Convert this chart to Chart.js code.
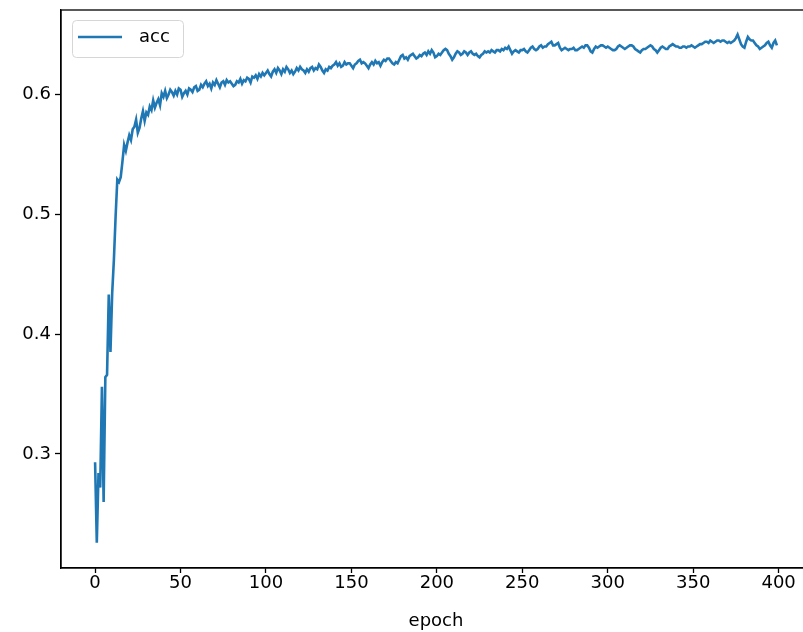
<!DOCTYPE html>
<html>
<head>
<meta charset="utf-8">
<script src="https://cdn.jsdelivr.net/npm/chart.js@4.4.1/dist/chart.umd.min.js"></script>
<style>
  body { margin: 0; background: #fff; }
  #wrap { width: 803px; height: 632px; overflow: hidden; }
</style>
</head>
<body>
<div id="wrap"><canvas id="accChart" width="811" height="632"></canvas></div>
<script>
// accuracy per epoch (400 epochs, 0..399)
const acc = [
    0.293, 0.226, 0.284, 0.272, 0.356, 0.260, 0.364, 0.366, 0.433, 0.385, 0.434, 0.462, 0.498, 0.529, 0.527, 0.531, 0.544, 0.558, 0.553, 0.560,
    0.566, 0.562, 0.571, 0.573, 0.579, 0.568, 0.572, 0.580, 0.586, 0.578, 0.585, 0.583, 0.590, 0.587, 0.595, 0.589, 0.593, 0.596, 0.591, 0.601,
    0.598, 0.603, 0.597, 0.600, 0.604, 0.602, 0.599, 0.603, 0.600, 0.605, 0.604, 0.598, 0.601, 0.603, 0.600, 0.605, 0.604, 0.602, 0.606, 0.607,
    0.603, 0.604, 0.608, 0.606, 0.609, 0.611, 0.607, 0.609, 0.605, 0.610, 0.608, 0.612, 0.609, 0.606, 0.610, 0.611, 0.608, 0.612, 0.610, 0.611,
    0.609, 0.607, 0.608, 0.611, 0.610, 0.613, 0.609, 0.612, 0.611, 0.614, 0.613, 0.610, 0.615, 0.614, 0.616, 0.613, 0.617, 0.615, 0.618, 0.616,
    0.618, 0.620, 0.617, 0.615, 0.619, 0.621, 0.618, 0.622, 0.620, 0.617, 0.621, 0.619, 0.623, 0.621, 0.618, 0.620, 0.617, 0.619, 0.622, 0.620,
    0.623, 0.621, 0.620, 0.618, 0.621, 0.619, 0.622, 0.623, 0.620, 0.622, 0.621, 0.625, 0.623, 0.620, 0.618, 0.621, 0.620, 0.623, 0.622, 0.624,
    0.625, 0.627, 0.624, 0.626, 0.623, 0.624, 0.627, 0.625, 0.626, 0.626, 0.624, 0.622, 0.625, 0.626, 0.628, 0.629, 0.626, 0.627, 0.626, 0.624,
    0.622, 0.625, 0.627, 0.625, 0.628, 0.626, 0.627, 0.624, 0.627, 0.629, 0.628, 0.630, 0.630, 0.628, 0.626, 0.625, 0.627, 0.626, 0.629, 0.632,
    0.633, 0.630, 0.631, 0.629, 0.632, 0.633, 0.634, 0.632, 0.630, 0.631, 0.633, 0.632, 0.634, 0.635, 0.633, 0.636, 0.634, 0.637, 0.635, 0.631,
    0.632, 0.634, 0.633, 0.635, 0.637, 0.638, 0.637, 0.634, 0.632, 0.629, 0.631, 0.634, 0.636, 0.635, 0.633, 0.634, 0.636, 0.635, 0.633, 0.635,
    0.636, 0.634, 0.633, 0.634, 0.632, 0.631, 0.633, 0.634, 0.636, 0.635, 0.636, 0.635, 0.637, 0.636, 0.635, 0.637, 0.637, 0.636, 0.638, 0.637,
    0.639, 0.638, 0.640, 0.637, 0.634, 0.636, 0.637, 0.636, 0.635, 0.637, 0.637, 0.638, 0.636, 0.635, 0.637, 0.639, 0.640, 0.638, 0.637, 0.638,
    0.640, 0.641, 0.639, 0.640, 0.640, 0.642, 0.643, 0.644, 0.641, 0.641, 0.642, 0.643, 0.639, 0.637, 0.638, 0.639, 0.638, 0.637, 0.638, 0.638,
    0.639, 0.637, 0.637, 0.638, 0.639, 0.640, 0.639, 0.641, 0.641, 0.639, 0.636, 0.635, 0.638, 0.640, 0.639, 0.640, 0.641, 0.641, 0.640, 0.639,
    0.640, 0.639, 0.638, 0.637, 0.637, 0.638, 0.640, 0.641, 0.640, 0.639, 0.638, 0.639, 0.640, 0.641, 0.641, 0.640, 0.638, 0.637, 0.636, 0.635,
    0.637, 0.638, 0.638, 0.639, 0.640, 0.641, 0.640, 0.638, 0.637, 0.635, 0.637, 0.639, 0.640, 0.639, 0.638, 0.638, 0.640, 0.641, 0.642, 0.641,
    0.640, 0.640, 0.639, 0.639, 0.640, 0.640, 0.639, 0.640, 0.640, 0.641, 0.640, 0.639, 0.640, 0.641, 0.642, 0.642, 0.643, 0.644, 0.644, 0.643,
    0.645, 0.644, 0.643, 0.644, 0.645, 0.645, 0.644, 0.645, 0.645, 0.644, 0.643, 0.644, 0.643, 0.644, 0.645, 0.647, 0.650, 0.646, 0.642, 0.640,
    0.639, 0.644, 0.648, 0.646, 0.645, 0.645, 0.643, 0.641, 0.640, 0.638, 0.639, 0.640, 0.641, 0.643, 0.644, 0.641, 0.639, 0.643, 0.645, 0.641
];
const epochs = acc.map((_, i) => i);

const xTicks = [0, 50, 100, 150, 200, 250, 300, 350, 400];
const yTicks = [0.3, 0.4, 0.5, 0.6];

const lineColor = '#1f77b4';
const font = { family: 'DejaVu Sans', size: 18 };

// draw the axes box (matplotlib style spines)
const frame = {
    id: 'frame',
    afterDraw(chart) {
        const a = chart.chartArea, ctx = chart.ctx;
        ctx.save();
        ctx.strokeStyle = '#000';
        ctx.lineWidth = 1.3;
        ctx.strokeRect(a.left, a.top, a.right - a.left, a.bottom - a.top);
        ctx.restore();
    }
};

// legend box in upper left corner of plot
const boxLegend = {
    id: 'boxLegend',
    afterDraw(chart) {
        const ctx = chart.ctx;
        const ds = chart.data.datasets[0];
        const x = 72, y = 20, w = 111, h = 37;
        ctx.save();
        ctx.beginPath();
        ctx.roundRect(x + 0.5, y + 0.5, w, h, 4);
        ctx.fillStyle = 'rgba(255,255,255,0.8)';
        ctx.fill();
        ctx.strokeStyle = '#d6d6d6';
        ctx.lineWidth = 1;
        ctx.stroke();
        ctx.beginPath();
        ctx.moveTo(x + 6, y + 17);
        ctx.lineTo(x + 50, y + 17);
        ctx.strokeStyle = ds.borderColor;
        ctx.lineWidth = 2.6;
        ctx.stroke();
        ctx.fillStyle = '#000';
        ctx.font = '18px "DejaVu Sans"';
        ctx.textBaseline = 'middle';
        ctx.fillText(ds.label, x + 67, y + 17);
        ctx.restore();
    }
};

const config = {
    type: 'line',
    data: {
        labels: epochs,
        datasets: [{
            label: 'acc',
            data: acc,
            borderColor: lineColor,
            backgroundColor: lineColor,
            borderWidth: 2.6,
            pointRadius: 0,
            tension: 0,
            fill: false
        }]
    },
    options: {
        responsive: false,
        animation: false,
        devicePixelRatio: 1,
        layout: { padding: { top: 10, left: 0, right: 0, bottom: 0 } },
        plugins: {
            legend: { display: false },
            tooltip: { enabled: false }
        },
        scales: {
            x: {
                type: 'linear',
                min: -19.95,
                max: 418.95,
                afterBuildTicks: s => { s.ticks = xTicks.map(v => ({ value: v })); },
                afterFit: s => { s.height = 64; s.paddingLeft = 0; s.paddingRight = 0; },
                grid: { drawOnChartArea: false, tickLength: 5, tickColor: '#000', tickWidth: 1.3 },
                border: { color: '#000', width: 1.3 },
                ticks: { font: font, color: '#000', padding: 0, maxRotation: 0 },
                title: { display: true, text: 'epoch', font: font, color: '#000', padding: { top: 0, bottom: 0 } }
            },
            y: {
                min: 0.2048,
                max: 0.6705,
                afterBuildTicks: s => { s.ticks = yTicks.map(v => ({ value: v })); },
                afterFit: s => { s.width = 61; s.paddingTop = 0; s.paddingBottom = 0; },
                grid: { drawOnChartArea: false, tickLength: 6, tickColor: '#000', tickWidth: 1.3 },
                border: { color: '#000', width: 1.3 },
                ticks: { font: font, color: '#000', padding: 4, callback: v => v.toFixed(1) }
            }
        }
    },
    plugins: [frame, boxLegend]
};

window.onload = function() {
    const ctx = document.getElementById('accChart').getContext('2d');
    new Chart(ctx, config);
};
</script>
</body>
</html>
